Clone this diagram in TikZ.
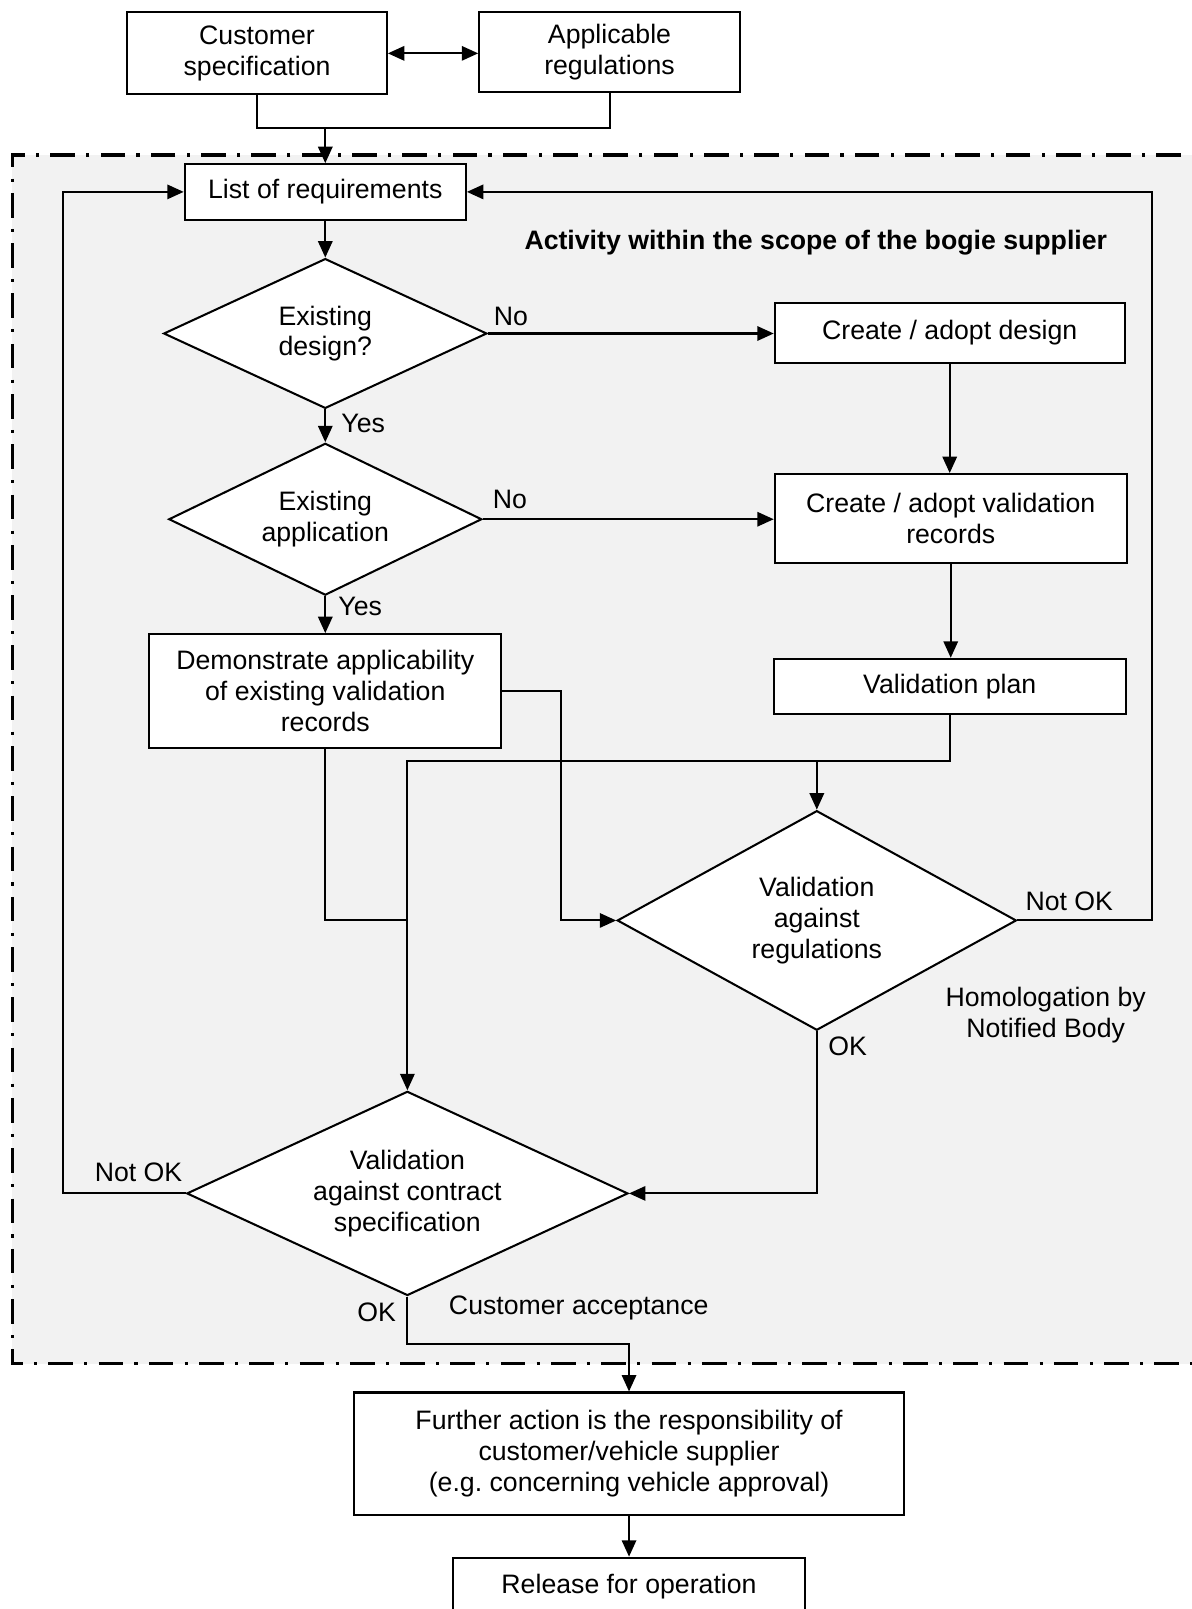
\documentclass[tikz,border=0pt]{standalone}
\usepackage{fontspec}
\setmainfont{Liberation Sans}
\usetikzlibrary{shapes.geometric,arrows.meta}
\frenchspacing

\tikzset{
  box/.style={draw, line width=1pt, fill=white, align=center, inner sep=0pt},
  decision/.style={diamond, draw, line width=1pt, fill=white, align=center, inner sep=0pt},
  link/.style={line width=1pt},
  flow/.style={link, -{Triangle[length=8pt,width=7pt]}},
  bothflow/.style={link, {Triangle[length=8pt,width=7pt]}-{Triangle[length=8pt,width=7pt]}},
  lbl/.style={inner sep=0pt, align=center},
  frame/.style={line width=1.6pt, dash pattern=on 12pt off 5.5pt on 1.5pt off 5.5pt}
}

\begin{document}
\begin{tikzpicture}[x=0.5pt, y=-0.5pt, font=\fontsize{13}{15}\selectfont]
\useasboundingbox (0,0) rectangle (1161,1568);
\fill[black!5] (12,151) rectangle (1200,1329);
\draw[frame] (1200,151) -- (12,151) -- (12,1329) -- (1200,1329);

\node[box, minimum width=126.5pt, minimum height=40pt] (cust) at (250.5,52) {Customer\\specification};
\node[box, minimum width=127pt, minimum height=39pt] (appl) at (594,51) {Applicable\\regulations};
\node[box, minimum width=137pt, minimum height=27pt] (list) at (317,187) {List of requirements};
\node[lbl, font=\fontsize{13}{15}\selectfont\bfseries] (scope) at (795,236) {Activity within the scope of the bogie supplier};
\node[decision, minimum width=157.5pt, minimum height=73pt, aspect=2.16] (qdesign) at (317,325) {Existing\\design?};
\node[box, minimum width=170.5pt, minimum height=29.5pt] (design) at (925.5,324.5) {Create / adopt design};
\node[decision, minimum width=152.5pt, minimum height=74pt, aspect=2.06] (qappl) at (317,506) {Existing\\application};
\node[box, minimum width=171.5pt, minimum height=43.5pt] (records) at (926.5,505.5) {Create / adopt validation\\records};
\node[box, minimum width=171.5pt, minimum height=55.5pt] (demo) at (317,673.5) {Demonstrate applicability\\of existing validation\\records};
\node[box, minimum width=171.5pt, minimum height=27pt] (plan) at (925.5,669) {Validation plan};
\node[decision, minimum width=194.5pt, minimum height=107pt, aspect=1.82] (vreg) at (796,897) {Validation\\against\\regulations};
\node[decision, minimum width=215pt, minimum height=99.5pt, aspect=2.16] (vspec) at (397,1163) {Validation\\against contract\\specification};
\node[box, minimum width=268pt, minimum height=59.5pt] (further) at (613,1416.5) {Further action is the responsibility of\\customer/vehicle supplier\\(e.g. concerning vehicle approval)};
\node[box, minimum width=171.5pt, anchor=north, text height=17.6pt, text depth=40pt] (release) at (613,1517) {Release for operation};

\node[lbl] (no1) at (498,308) {No};
\node[lbl] (yes1) at (354,413) {Yes};
\node[lbl] (no2) at (497,487) {No};
\node[lbl] (yes2) at (351,591) {Yes};
\node[lbl] (notok1) at (1042,878) {Not OK};
\node[lbl] (homol) at (1019,989) {Homologation by\\Notified Body};
\node[lbl] (ok1) at (826,1020) {OK};
\node[lbl] (notok2) at (135,1142) {Not OK};
\node[lbl] (ok2) at (367,1279) {OK};
\node[lbl] (accept) at (564,1275) {Customer acceptance};

\coordinate (merge) at (317,125);
\coordinate (bus) at (397,742);

\draw[bothflow] (cust.east) -- (cust.east -| appl.west);
\draw[link] (cust.south) |- (merge);
\draw[link] (appl.south) |- (merge);
\draw[flow] (merge) -- (list.north);
\draw[flow] (list.south) -- (qdesign.north);
\draw[flow] (qdesign.east) -- (qdesign.east -| design.west);
\draw[flow] (design.south) -- (design.south |- records.north);
\draw[flow] (qdesign.south) -- (qappl.north);
\draw[flow] (qappl.east) -- (qappl.east -| records.west);
\draw[flow] (records.south) -- (records.south |- plan.north);
\draw[flow] (qappl.south) -- (demo.north);
\draw[flow] (demo.east) -- ++(57,0) |- (vreg.west);
\draw[link] (demo.south) |- (vspec.north |- vreg.west);
\draw[flow] (plan.south) |- (bus) -- (vspec.north);
\draw[flow] (vreg.north |- bus) -- (vreg.north);
\draw[flow] (vreg.east) -- ++(131,0) |- (list.east);
\draw[flow] (vreg.south) |- (vspec.east);
\draw[flow] (vspec.west) -- ++(-120,0) |- (list.west);
\draw[flow] (vspec.south) -- ++(0,46) -| (further.north);
\draw[flow] (further.south) -- (release.north);
\end{tikzpicture}
\end{document}
